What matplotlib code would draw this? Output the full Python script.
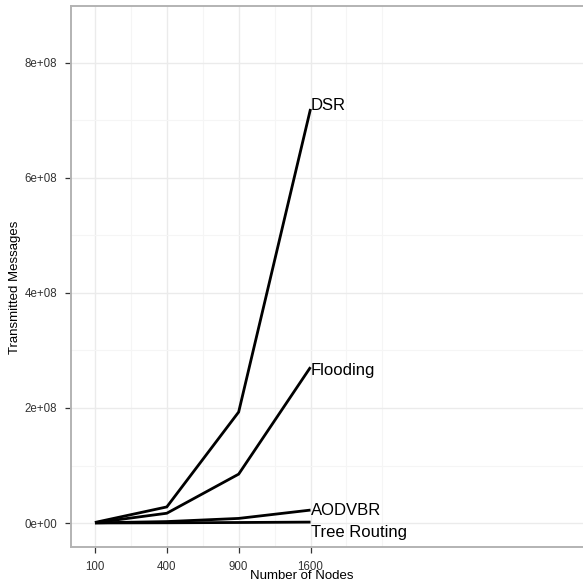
import numpy as np
import matplotlib
matplotlib.use('Agg')
import matplotlib.pyplot as plt

plt.rcParams['font.family'] = ['Liberation Sans', 'DejaVu Sans']

# data
nodes = [100, 400, 900, 1600]
series_names = ["DSR", "Flooding", "AODVBR", "Tree Routing"]
dsr = [1.0e6, 2.8e7, 1.93e8, 7.2e8]
flooding = [0.5e6, 1.7e7, 8.5e7, 2.71e8]
aodvbr = [0.3e6, 2.5e6, 8.0e6, 2.25e7]
tree_routing = [0.1e6, 0.4e6, 0.9e6, 1.6e6]
y_ticks = [0, 2e8, 4e8, 6e8, 8e8]
y_tick_labels = ["0e+00", "2e+08", "4e+08", "6e+08", "8e+08"]

all_series = [dsr, flooding, aodvbr, tree_routing]
label_offsets = [2.4, -2.7, 0, -7.3]  # points, vertical nudges of end labels

W, H = 583, 587
fig = plt.figure(figsize=(W / 100, H / 100), dpi=100)
ax = fig.add_axes([71 / W, 40 / H, (W - 71) / W + 0.01, 541 / H])

ax.set_xscale('function', functions=(np.sqrt, np.square))

# grid (major + minor, ggplot style)
ax.set_xticks(nodes)
ax.set_xticklabels([str(n) for n in nodes])
ax.set_xticks([225, 625, 1225, 2025, 2500], minor=True)
ax.set_yticks(y_ticks)
ax.set_yticklabels(y_tick_labels)
ax.set_yticks([1e8, 3e8, 5e8, 7e8], minor=True)
ax.grid(which='major', color='#ebebeb', linewidth=1.0, zorder=0)
ax.grid(which='minor', color='#f5f5f5', linewidth=0.8, zorder=0)
ax.set_axisbelow(True)

ax.tick_params(which='major', length=4, width=0.9, color='#333333',
               labelsize=8.3, labelcolor='#333333', pad=6)
ax.tick_params(which='minor', length=0)

for s in ['left', 'bottom', 'top']:
    ax.spines[s].set_color('#b3b3b3')
    ax.spines[s].set_linewidth(1.4)
ax.spines['right'].set_visible(False)

for name, vals, off in zip(series_names, all_series, label_offsets):
    ax.plot(nodes, vals, color='black', linewidth=2.0, solid_capstyle='butt',
            solid_joinstyle='miter', zorder=3)
    ax.annotate(name, (nodes[-1], vals[-1]), xytext=(0, off),
                textcoords='offset points', ha='left', va='center',
                fontsize=12, color='black', zorder=4)

# limits last so tick settings can't widen them
ax.set_xlim(44.4, 6200)
ax.set_ylim(-0.417e8, 8.99e8)

fig.text(302 / W, 1 - 576 / H, "Number of Nodes", ha='center', va='center',
         fontsize=9.5)
fig.text(15 / W, 1 - 287 / H, "Transmitted Messages", ha='center',
         va='center', rotation=90, fontsize=9.5)

fig.savefig('out.png', dpi=100)
